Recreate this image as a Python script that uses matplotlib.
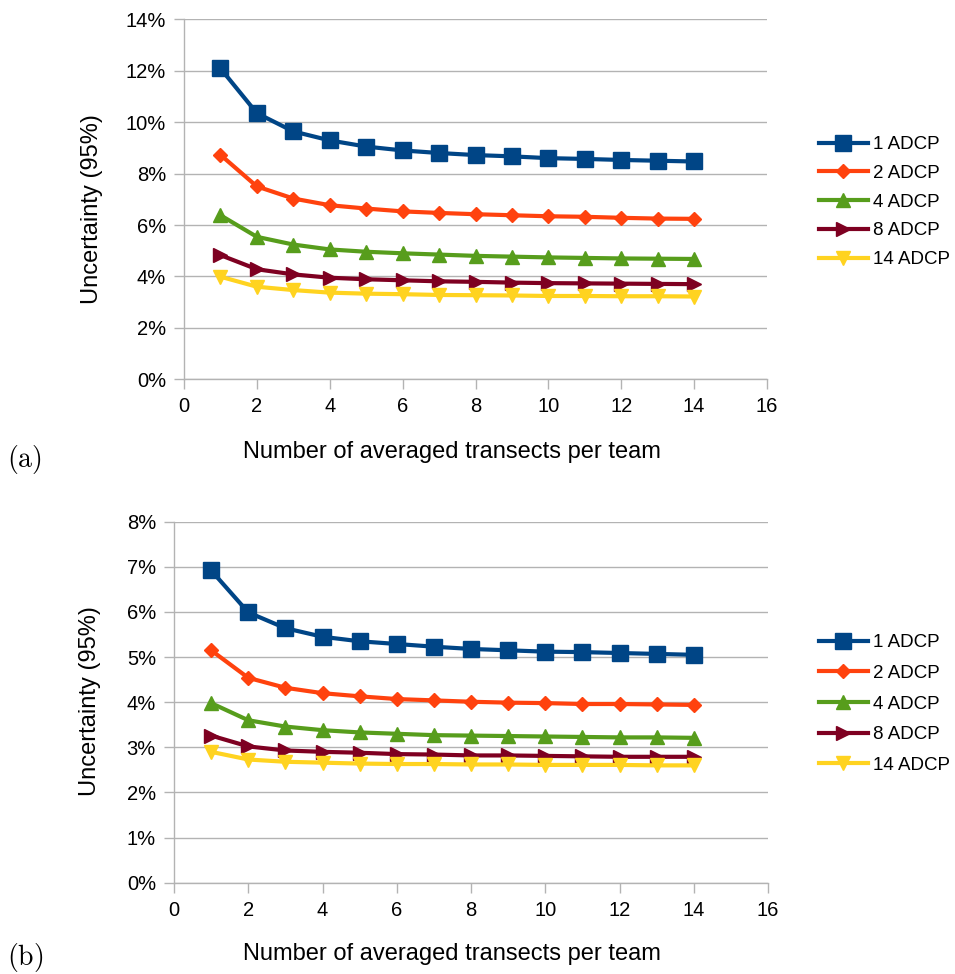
import matplotlib
matplotlib.use("Agg")
import matplotlib.pyplot as plt
from matplotlib.ticker import FuncFormatter

plt.rcParams['font.family'] = ['Liberation Sans', 'DejaVu Sans']
plt.rcParams['mathtext.fontset'] = 'cm'

transects = list(range(1, 15))
labels = ["1 ADCP", "2 ADCP", "4 ADCP", "8 ADCP", "14 ADCP"]

# panel (a), uncertainty in %
a_1 = [12.09, 10.35, 9.64, 9.29, 9.05, 8.90, 8.80, 8.72, 8.67, 8.60, 8.57, 8.53, 8.50, 8.47]
a_2 = [8.73, 7.50, 7.03, 6.77, 6.64, 6.53, 6.47, 6.42, 6.38, 6.34, 6.32, 6.28, 6.25, 6.24]
a_4 = [6.38, 5.54, 5.24, 5.05, 4.96, 4.90, 4.85, 4.80, 4.77, 4.74, 4.72, 4.70, 4.69, 4.68]
a_8 = [4.83, 4.28, 4.08, 3.95, 3.89, 3.85, 3.81, 3.79, 3.76, 3.74, 3.73, 3.72, 3.71, 3.70]
a_14 = [3.99, 3.60, 3.47, 3.37, 3.33, 3.31, 3.28, 3.27, 3.26, 3.24, 3.24, 3.23, 3.23, 3.22]

# panel (b)
b_1 = [6.92, 5.99, 5.64, 5.45, 5.35, 5.29, 5.23, 5.18, 5.15, 5.12, 5.11, 5.09, 5.07, 5.05]
b_2 = [5.15, 4.54, 4.32, 4.20, 4.13, 4.07, 4.04, 4.01, 3.99, 3.98, 3.96, 3.96, 3.95, 3.94]
b_4 = [3.98, 3.60, 3.46, 3.38, 3.33, 3.30, 3.27, 3.26, 3.25, 3.24, 3.23, 3.22, 3.22, 3.21]
b_8 = [3.26, 3.02, 2.93, 2.90, 2.88, 2.85, 2.84, 2.82, 2.82, 2.81, 2.80, 2.79, 2.79, 2.79]
b_14 = [2.90, 2.73, 2.68, 2.66, 2.64, 2.63, 2.63, 2.62, 2.62, 2.61, 2.61, 2.61, 2.60, 2.60]

colors = ["#004586", "#ff420e", "#579d1c", "#7e0021", "#ffd320"]
markers = ["s", "D", "^", ">", "v"]
msizes = [11, 7.5, 10, 10, 10]

fig = plt.figure(figsize=(9.55, 9.74), dpi=100)
W, H = 955, 974


def fx(px):
    return px / W


def fy(py):
    return 1 - py / H


def make_axes(left, right, top, bottom):
    return fig.add_axes([fx(left), fy(bottom), (right - left) / W, (bottom - top) / H])


def draw_panel(ax, series, ymax, ystep, tag, tag_y, ylab_xy, xlab_xy, leg_y, leg_sp):
    for vals, c, m, ms, lab in zip(series, colors, markers, msizes, labels):
        ax.plot(transects, vals, color=c, marker=m, markersize=ms, linewidth=3,
                label=lab, clip_on=False, zorder=3)
    ax.set_xlim(0, 16)
    ax.set_ylim(0, ymax)
    ax.set_xticks(range(0, 17, 2))
    ax.set_yticks([i * ystep for i in range(int(round(ymax / ystep)) + 1)])
    ax.yaxis.set_major_formatter(FuncFormatter(lambda v, p: f"{v:.0f}%"))
    ax.grid(axis="y", color="#b3b3b3", linewidth=1)
    ax.set_axisbelow(True)
    for s in ["top", "right"]:
        ax.spines[s].set_visible(False)
    for s in ["left", "bottom"]:
        ax.spines[s].set_color("#b3b3b3")
        ax.spines[s].set_linewidth(1)
    ax.tick_params(colors="#b3b3b3", labelcolor="black", labelsize=14.5,
                   length=7, width=1, pad=6)
    fig.text(fx(ylab_xy[0]), fy(ylab_xy[1]), "Uncertainty (95%)", fontsize=17,
             rotation=90, ha="center", va="center")
    fig.text(fx(xlab_xy[0]), fy(xlab_xy[1]), "Number of averaged transects per team",
             fontsize=17, ha="center", va="center")
    ax.legend(loc="center left", bbox_to_anchor=(fx(802), fy(leg_y)),
              bbox_transform=fig.transFigure, frameon=False, fontsize=13.5,
              numpoints=1, handlelength=2.6, labelspacing=leg_sp, handletextpad=0.3)
    fig.text(fx(7), fy(tag_y), tag, fontsize=20, va="center", ha="left")


ax_a = make_axes(184, 767, 19.3, 379.3)
draw_panel(ax_a, [a_1, a_2, a_4, a_8, a_14], 14, 2, r"$\mathrm{(a)}$", 460,
           (92, 209), (452, 452), 202, 0.62)

ax_b = make_axes(174, 768, 521.7, 882.7)
draw_panel(ax_b, [b_1, b_2, b_4, b_8, b_14], 8, 1, r"$\mathrm{(b)}$", 958,
           (90, 701), (452, 954), 704, 0.72)

fig.savefig("out.png", dpi=100)
